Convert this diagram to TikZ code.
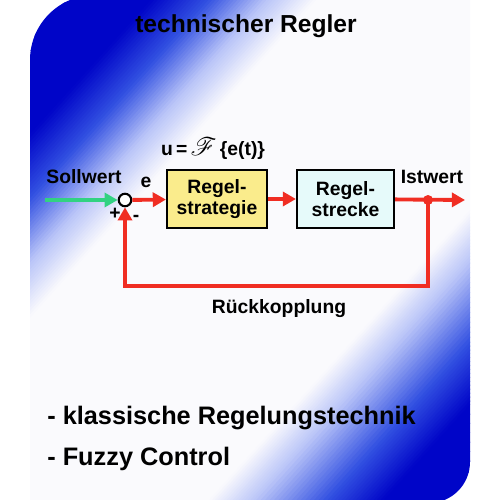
\documentclass[tikz,border=0pt]{standalone}
\usepackage{fontspec}
\setmainfont{Liberation Sans}
\usepackage{mathrsfs}
\usepackage{xcolor}
\usetikzlibrary{arrows.meta, positioning, calc}

\definecolor{deepblue}{RGB}{0,5,200}
\definecolor{midblue}{RGB}{50,80,225}
\definecolor{lightblue}{RGB}{185,196,248}
\definecolor{paper}{RGB}{250,250,253}
\definecolor{sigred}{RGB}{240,45,35}
\definecolor{siggreen}{RGB}{50,210,130}
\definecolor{ctrlyellow}{RGB}{250,236,140}
\definecolor{plantcyan}{RGB}{230,250,250}

\begin{document}
\begin{tikzpicture}[x=0.02cm, y=-0.02cm,
    every node/.style={font=\fontsize{11}{12}\selectfont\bfseries, inner sep=0pt},
    sig/.style={line width=2.2pt, sigred},
    sigarrow/.style={sig, -{Triangle[length=7.5pt, width=8pt]}},
    feed/.style={line width=2.2pt, siggreen, -{Triangle[length=7.5pt, width=8pt]}},
    block/.style={draw, line width=1.2pt, minimum width=2cm, minimum height=1.16cm, align=center},
    sumpoint/.style={circle, draw, line width=1.2pt, fill=white, minimum size=0.25cm},
    tap/.style={circle, fill=sigred, minimum size=0.2cm},
    big/.style={font=\fontsize{14}{16}\selectfont\bfseries},
  ]
\useasboundingbox (0,0) rectangle (500,500);
\clip (0,0) rectangle (500,500);

% Slide background (rounded top-left and bottom-right corners),
% diagonal fade built from thin strips: blue -> white band -> blue
\begin{scope}
  \clip (30,503) -- (30,60) arc[start angle=180, end angle=270, radius=65]
    -- (470,-5) -- (470,462) arc[start angle=0, end angle=90, radius=41] -- cycle;
  \begin{scope}[rotate=-42]
    \foreach \qa/\qb/\ca/\cb in {0/112/deepblue/deepblue, 112/155/deepblue/midblue,
        155/198/midblue/lightblue, 198/235/lightblue/paper, 235/490/paper/paper,
        490/525/paper/lightblue, 525/578/lightblue/midblue, 578/620/midblue/deepblue,
        620/720/deepblue/deepblue} {
      \foreach \k in {0,...,15} {
        \pgfmathsetmacro\qs{\qa+(\qb-\qa)*\k/16}
        \pgfmathsetmacro\qe{\qa+(\qb-\qa)*(\k+1)/16+1}
        \pgfmathsetmacro\pct{100-100*(\k+0.5)/16}
        \fill[\ca!\pct!\cb] (\qs,-800) rectangle (\qe,800);
      }
    }
  \end{scope}
\end{scope}

% Title
\node[big, anchor=base] (title) at (246,33) {technischer Regler};

% Blocks and junctions
\node[block, fill=ctrlyellow] (strat) at (217,199) {Regel-\\strategie};
\node[block, fill=plantcyan, minimum width=1.94cm] (plant) at (345.5,199) {Regel-\\strecke};
\node[sumpoint] (sum) at (125,200) {};
\coordinate (sollin) at (45,200);
\coordinate (tappt) at (428,200);
\coordinate (istout) at (465,200);
\coordinate (fbright) at (428,286);

% Signal paths
\draw[feed] (sollin) -- (sum);
\draw[sigarrow] (sum) -- (strat);
\draw[sigarrow] (strat) -- (plant);
\draw[sigarrow] (plant) -- (istout);
\draw[sigarrow] (tappt) -- (fbright) -- (sum |- fbright) -- (sum);
\node[tap] (tap) at (tappt) {};

% Labels
\node[anchor=base] (law) at (213,155) {u\,=\,{\Large$\mathscr{F}$}\,\{e(t)\}};
\node[anchor=base] (soll) at (84,183) {Sollwert};
\node[anchor=base] (err) at (146,187) {e};
\node[anchor=base] (ist) at (432,183) {Istwert};
\node[anchor=base] (fb) at (279,313) {Rückkopplung};
\node (plus) at (115,214) {+};
\node (minus) at (136,218) {-};

% Bullet list
\node[big, anchor=base west, font=\fontsize{14.4}{17}\selectfont\bfseries] (item1) at (47,424) {- klassische Regelungstechnik};
\node[big, anchor=base west, font=\fontsize{14.4}{17}\selectfont\bfseries] (item2) at (47,465) {- Fuzzy Control};
\end{tikzpicture}
\end{document}
